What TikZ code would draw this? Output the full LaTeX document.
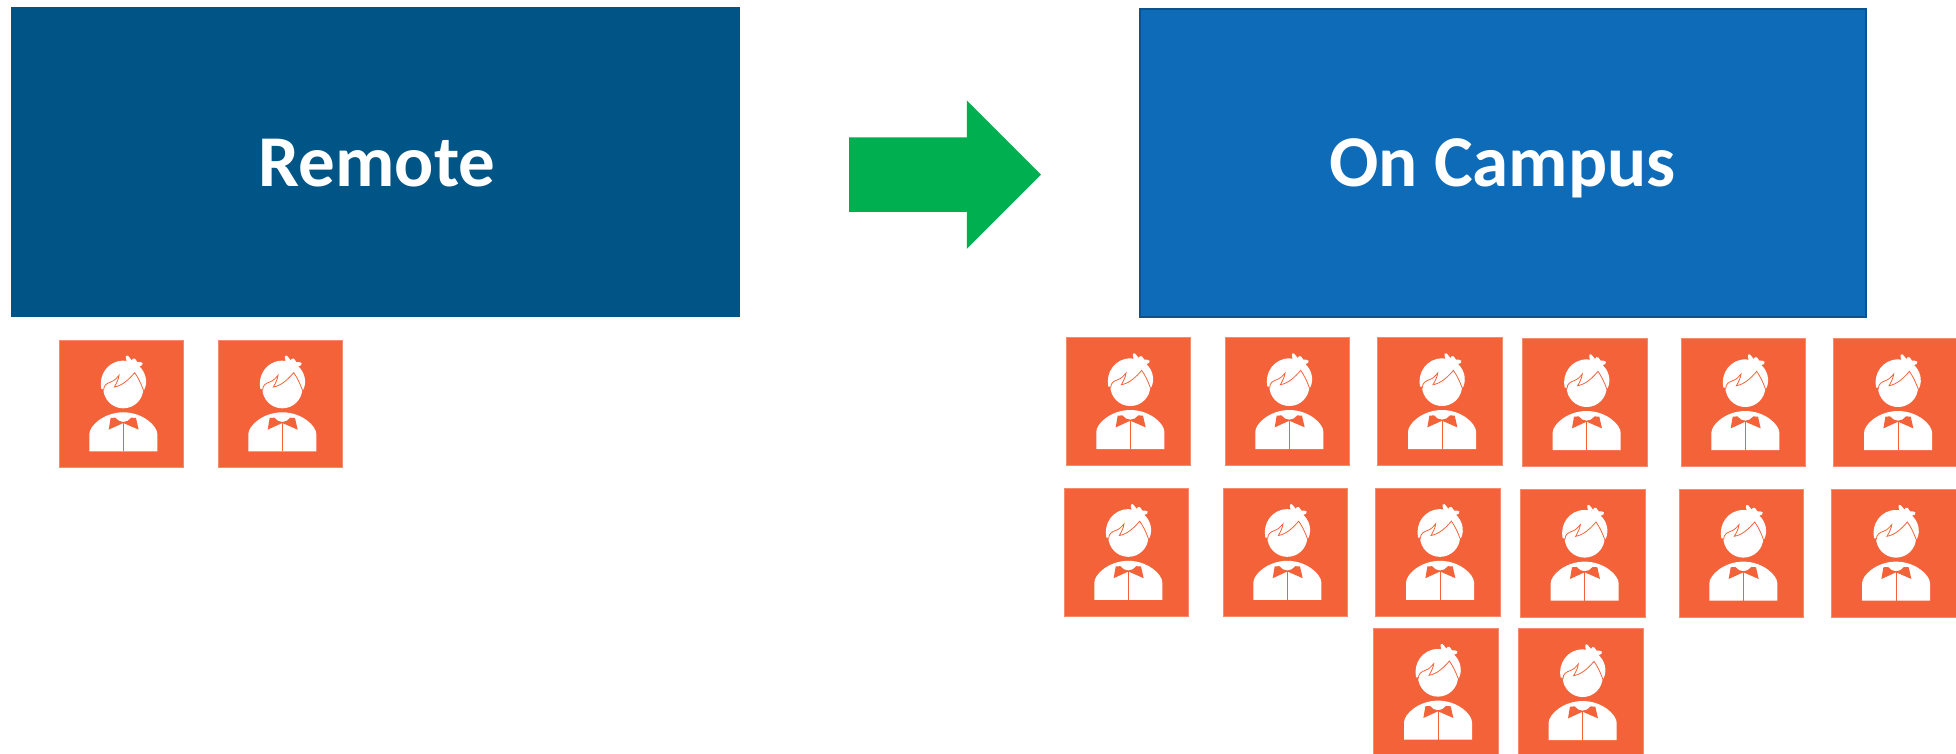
\documentclass[tikz,border=0pt]{standalone}
\usepackage{fontspec}
\setmainfont{Carlito}
\usetikzlibrary{shapes.arrows}
\definecolor{remoteblue}{HTML}{005587}
\definecolor{campusblue}{HTML}{0D6BB8}
\definecolor{campusedge}{HTML}{0B5290}
\definecolor{iconorange}{HTML}{F4623A}
\definecolor{iconedge}{HTML}{F68A6C}
\definecolor{arrowgreen}{HTML}{00B050}
\tikzset{
  bigbox/.style={rectangle,anchor=north west,inner sep=0pt,outer sep=0pt},
  biglabel/.style={anchor=base,text=white,inner sep=0pt,font=\fontsize{73}{80}\selectfont\bfseries},
  iconbox/.style={rectangle,anchor=north west,fill=iconorange,draw=iconedge,line width=.6pt,
    minimum width=124.5pt,minimum height=127.5pt,inner sep=0pt,outer sep=0pt},
  person/.pic={
    \begin{scope}[x=.33333pt,y=-.33333pt,shift={(-178,-60)}]
      % hair with tuft
      \fill[white] (305,207) .. controls (296,165) and (325,122) .. (371,122)
        .. controls (374,122) and (378,122) .. (381,123)
        .. controls (380,118) and (377,112) .. (379,108)
        .. controls (382,104) and (387,108) .. (389,112)
        .. controls (391,116) and (393,119) .. (396,121)
        .. controls (397,116) and (402,113) .. (406,116)
        .. controls (409,119) and (410,123) .. (413,126)
        .. controls (417,126) and (425,125) .. (429,129)
        .. controls (431,134) and (425,139) .. (419,139)
        .. controls (436,155) and (446,182) .. (434,209) -- cycle;
      % face
      \fill[white] (371,205) circle[radius=60];
      % parting line
      \draw[iconorange,line width=.8pt,line join=miter]
        (312,210) .. controls (312,195) and (322,190) .. (333,186)
        .. controls (345,182) and (350,175) .. (358,166)
        .. controls (357,178) and (350,190) .. (344,201)
        .. controls (368,197) and (388,178) .. (405,158)
        .. controls (415,172) and (424,190) .. (431,210);
      % body
      \fill[white] (269,394) -- (269,342)
        .. controls (269,318) and (312,277) .. (371,277)
        .. controls (430,277) and (473,318) .. (473,342)
        -- (473,394) -- cycle;
      % bow tie
      \fill[iconorange] (333,294) -- (347,293)
        .. controls (353,301) and (362,306) .. (371,306)
        .. controls (380,306) and (389,301) .. (395,293)
        -- (409,294) -- (417,329) -- (371,309) -- (327,329) -- cycle;
      % shirt line
      \draw[iconorange,line width=.8pt] (371,306) -- (371,394);
    \end{scope}
  }
}
\newcommand{\personicon}[3]{%
  \node[iconbox] (#1) at (#2,#3) {};
  \pic at (#1.north west) {person};
}
\begin{document}
\begin{tikzpicture}[x=1pt,y=-1pt]
  \useasboundingbox (0,0) rectangle (1956,754);
  \node[bigbox,fill=remoteblue,minimum width=728.5pt,minimum height=309pt] (remote) at (11,7.5) {};
  \node[biglabel] (remotelabel) at (377,187) {Remote};
  \node[bigbox,fill=campusblue,draw=campusedge,line width=2pt,minimum width=726pt,minimum height=307.5pt] (campus) at (1140,9) {};
  \node[biglabel] (campuslabel) at (1502.5,187) {On Campus};
  \node[single arrow,fill=arrowgreen,anchor=tip,inner xsep=0pt,inner ysep=37pt,outer sep=0pt,
        minimum height=192pt,minimum width=148pt,single arrow head extend=37pt,
        single arrow head indent=0pt] (move) at (1041,174.7) {};
  \personicon{r1}{59}{340}
  \personicon{r2}{218}{340}
  \personicon{a1}{1066}{337.7}
  \personicon{a2}{1225}{337.7}
  \personicon{a3}{1377.7}{337.7}
  \personicon{a4}{1522.3}{338.7}
  \personicon{a5}{1681}{338.7}
  \personicon{a6}{1833.7}{338.7}
  \personicon{b1}{1064}{488.5}
  \personicon{b2}{1223}{488.5}
  \personicon{b3}{1375.7}{488.5}
  \personicon{b4}{1520.3}{489.3}
  \personicon{b5}{1679}{489.3}
  \personicon{b6}{1831.7}{489.3}
  \personicon{c1}{1373.7}{628.3}
  \personicon{c2}{1518.3}{628.7}
\end{tikzpicture}
\end{document}
